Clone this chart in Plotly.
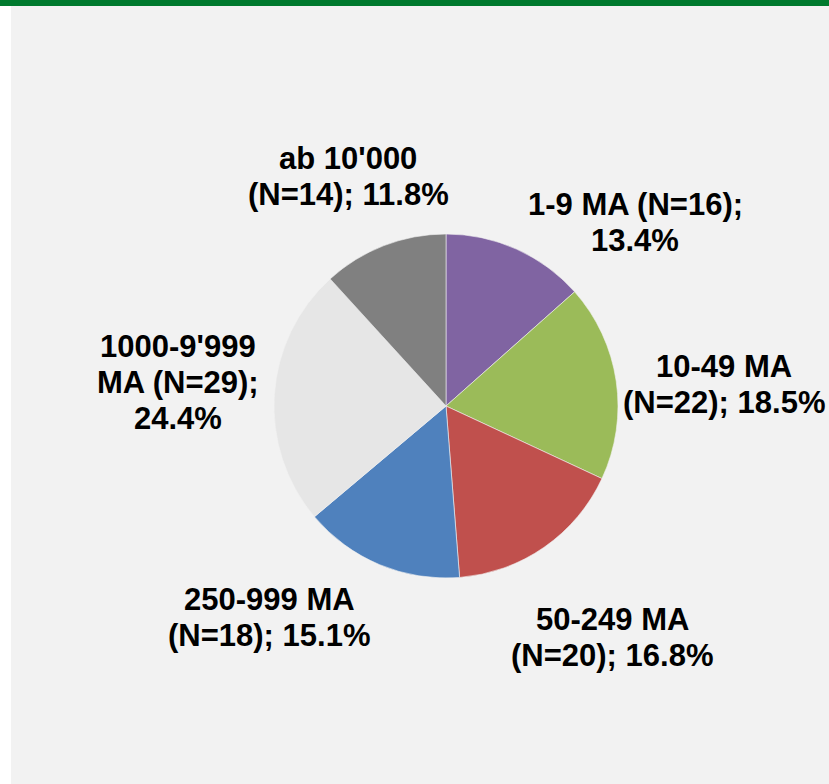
import plotly.graph_objects as go

# Data
categories = ["1-9 MA", "10-49 MA", "50-249 MA", "250-999 MA", "1000-9'999 MA", "ab 10'000"]
counts = [16, 22, 20, 18, 29, 14]
label_lines = [
    ["1-9 MA (N=16);", "13.4%"],
    ["10-49 MA", "(N=22); 18.5%"],
    ["50-249 MA", "(N=20); 16.8%"],
    ["250-999 MA", "(N=18); 15.1%"],
    ["1000-9'999", "MA (N=29);", "24.4%"],
    ["ab 10'000", "(N=14); 11.8%"],
]

# Styles / positions
colors = ["#8064A2", "#9BBB59", "#C0504D", "#4F81BD", "#E6E6E6", "#808080"]
W, H = 829, 784
label_centers_px = [(635, 222.5), (724, 384.5), (612, 637.5), (269, 617.5), (178, 382.5), (348, 176.5)]
line_gap = 36
cx, cy, r = 446, 406, 172

fig = go.Figure()
fig.add_trace(go.Pie(
    labels=categories,
    values=counts,
    marker=dict(colors=colors, line=dict(color="#f2f2f2", width=0.6)),
    sort=False,
    direction="clockwise",
    rotation=0,
    textinfo="none",
    hoverinfo="label+value+percent",
    showlegend=False,
    domain=dict(x=[(cx - r) / W, (cx + r) / W], y=[1 - (cy + r) / H, 1 - (cy - r) / H]),
))

annotations = []
for lines, (x, y) in zip(label_lines, label_centers_px):
    n = len(lines)
    for i, t in enumerate(lines):
        ly = y + (i - (n - 1) / 2) * line_gap
        annotations.append(dict(
            text="<b>" + t + "</b>", x=x / W, y=1 - ly / H, xref="paper", yref="paper",
            xanchor="center", yanchor="middle", showarrow=False,
            font=dict(family="Liberation Sans, Arial, sans-serif", size=31, color="#000000"),
        ))

shapes = [
    dict(type="rect", xref="paper", yref="paper", x0=0, x1=11 / W, y0=0, y1=1,
         fillcolor="#ffffff", line=dict(width=0), layer="below"),
    dict(type="rect", xref="paper", yref="paper", x0=0, x1=1, y0=1 - 6 / H, y1=1,
         fillcolor="#007A2E", line=dict(width=0), layer="above"),
]

fig.update_layout(
    width=W, height=H,
    margin=dict(l=0, r=0, t=0, b=0),
    paper_bgcolor="#f2f2f2",
    plot_bgcolor="#f2f2f2",
    annotations=annotations,
    shapes=shapes,
    font=dict(family="Liberation Sans, Arial, sans-serif", size=31, color="#000000"),
)

fig.write_html(
    "out.html",
    config={"displayModeBar": False},
    post_script="document.body.style.margin='0px';document.body.style.overflow='hidden';",
)
